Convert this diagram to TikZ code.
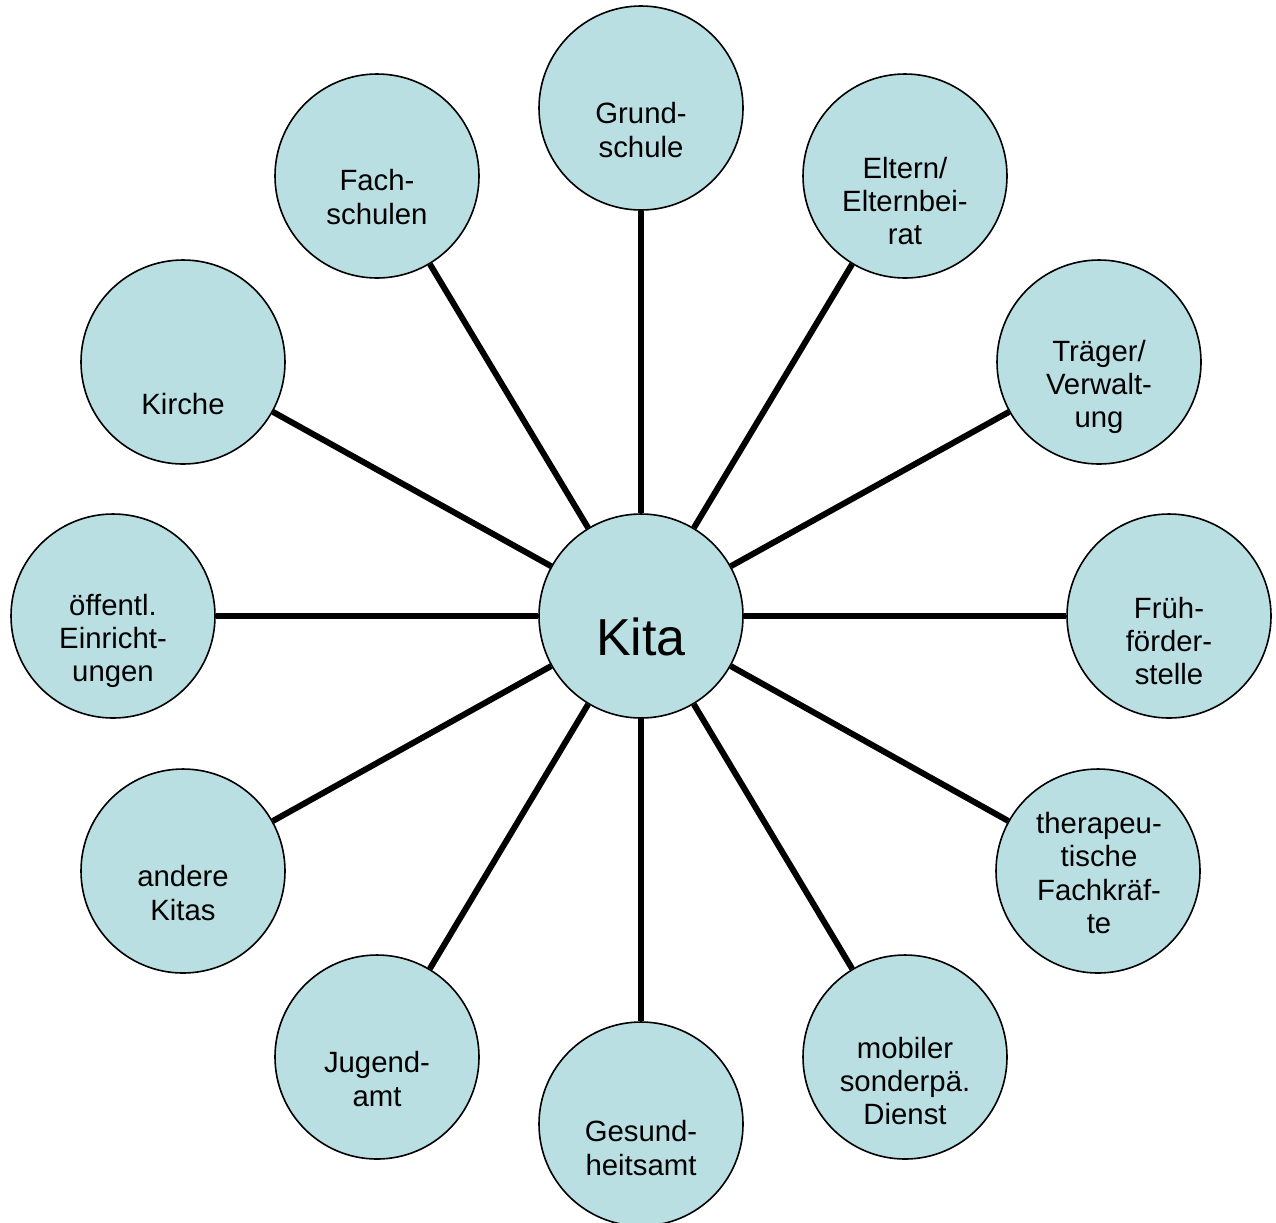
\documentclass[tikz,border=0pt]{standalone}
\usepackage{fontspec}
\setmainfont{Liberation Sans}
\definecolor{bubble}{RGB}{185,223,227}
\tikzset{
  bub/.style={circle, draw=black, line width=1.2pt, fill=bubble, minimum size=153pt, inner sep=0pt},
  lbl/.style={align=center, font=\fontsize{22pt}{24.9pt}\selectfont, inner sep=0pt},
  spoke/.style={line width=4.5pt, black}
}
\begin{document}
\begin{tikzpicture}[x=0.75pt,y=-0.75pt]
\useasboundingbox (0,0) rectangle (1276,1222);
% circles
\node[bub] (kita) at (641,616) {};
\node[bub] (grund) at (641,108) {};
\node[bub] (eltern) at (905,176) {};
\node[bub] (traeger) at (1099,362) {};
\node[bub] (frueh) at (1169,616) {};
\node[bub] (thera) at (1098,871) {};
\node[bub] (mobil) at (905,1057) {};
\node[bub] (gesund) at (641,1124) {};
\node[bub] (jugend) at (377,1057) {};
\node[bub] (andere) at (183,871) {};
\node[bub] (oeff) at (113,616) {};
\node[bub] (kirche) at (183,362) {};
\node[bub] (fach) at (377,176) {};
% spokes
\foreach \n in {grund,eltern,traeger,frueh,thera,mobil,gesund,jugend,andere,oeff,kirche,fach}
  \draw[spoke] (kita) -- (\n);
% labels
\node[font=\fontsize{39pt}{44pt}\selectfont, inner sep=0pt] (tkita) at (641,637) {Kita};
\node[lbl] (tgrund) at (641,130) {Grund-\\schule};
\node[lbl] (teltern) at (905,201) {Eltern/\\Elternbei-\\rat};
\node[lbl] (ttraeger) at (1099,387) {Träger/\\Verwalt-\\ung};
\node[lbl] (tfrueh) at (1169,641) {Früh-\\förder-\\stelle};
\node[lbl] (tthera) at (1099,873) {therapeu-\\tische\\Fachkräf-\\te};
\node[lbl] (tmobil) at (905,1081) {mobiler\\sonderpä.\\Dienst};
\node[lbl] (tgesund) at (641,1148) {Gesund-\\heitsamt};
\node[lbl] (tjugend) at (377,1079) {Jugend-\\amt};
\node[lbl] (tandere) at (183,893) {andere\\Kitas};
\node[lbl] (toeff) at (113,641) {öffentl.\\Einricht-\\ungen};
\node[lbl] (tkirche) at (183,404) {Kirche};
\node[lbl] (tfach) at (377,197) {Fach-\\schulen};
\end{tikzpicture}
\end{document}
